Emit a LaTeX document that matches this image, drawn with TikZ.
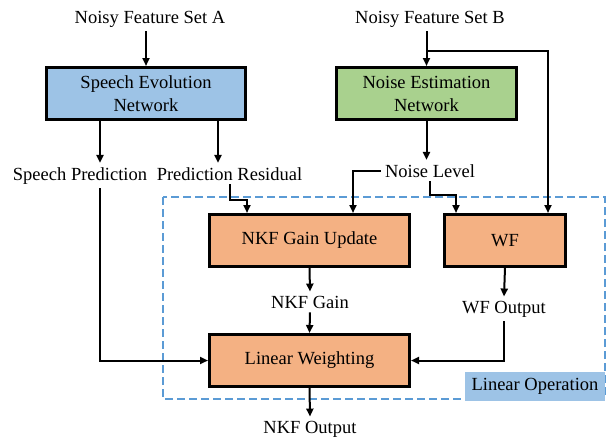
\documentclass[tikz,border=0pt]{standalone}
\usepackage{fontspec}
\setmainfont{Liberation Serif}
\usetikzlibrary{arrows.meta}
\definecolor{netblue}{HTML}{9DC3E6}
\definecolor{netgreen}{HTML}{A9D18E}
\definecolor{oporange}{HTML}{F4B183}
\definecolor{dashblue}{HTML}{5B9BD5}

\begin{document}
\begin{tikzpicture}[x=1pt, y=-1pt,
  every node/.style={font=\fontsize{18.5}{23}\selectfont},
  txt/.style={anchor=base, inner sep=4pt},
  netbox/.style={draw, line width=3pt, align=center, minimum height=52pt},
  opbox/.style={draw, line width=3pt, fill=oporange, minimum height=52pt},
  arr/.style={-{Triangle[length=8pt,width=7pt]}, line width=2pt}]

\useasboundingbox (0,0) rectangle (606,437);

% === LINEAR OPERATION REGION ===
\draw[dashblue, line width=1.5pt, dash pattern=on 8pt off 4pt] (163,197) rectangle (605,399);

% === INPUTS AND NETWORKS ===
\node[txt] (inA) at (150,23) {Noisy Feature Set A};
\node[txt] (inB) at (430,23) {Noisy Feature Set B};

\node[netbox, fill=netblue, minimum width=199pt] (sen) at (146,93.5) {Speech Evolution\\Network};
\node[netbox, fill=netgreen, minimum width=180pt] (nen) at (426.5,93.5) {Noise Estimation\\Network};

% intermediate outputs
\node[txt] (spred) at (80,180) {Speech Prediction};
\node[txt] (presid) at (229.5,180) {Prediction Residual};
\node[txt] (nlev) at (430,177) {Noise Level};

% === LINEAR OPERATION BLOCKS ===
\node[opbox, minimum width=200pt] (gain) at (309.5,240.5) {NKF Gain Update};
\node[opbox, minimum width=121pt] (wf) at (505,240.5) {WF};

\node[txt] (ngain) at (310,308) {NKF Gain};
\node[txt] (wfout) at (504,313) {WF Output};

\node[opbox, minimum width=200pt] (lw) at (309.5,360.5) {Linear Weighting};
\node[txt] (out) at (310,433) {NKF Output};

\node[fill=netblue, minimum width=140pt, minimum height=29pt, inner sep=0pt] (linop) at (535,386.5) {Linear Operation};

% === CONNECTORS ===
\coordinate (split) at (427,51);

\draw[arr] (inA.south -| sen.north) -- (sen.north);
\draw[arr] (inB.south -| nen.north) -- (nen.north);
\draw[arr] (split) -| ([xshift=43pt]wf.north);

\draw[arr] ([xshift=-46pt]sen.south) -- ([xshift=-46pt]sen.south |- spred.north);
\draw[arr] ([xshift=72pt]sen.south) -- ([xshift=72pt]sen.south |- presid.north);
\draw[arr] (nen.south) -- (nen.south |- nlev.north);

\draw[arr] (presid.south) -- ++(0,16) -| ([xshift=-62.5pt]gain.north);
\draw[arr] (nlev.west) -| ([xshift=43.5pt]gain.north);
\draw[arr] (nlev.south) -- ++(0,14) -| ([xshift=-49pt]wf.north);

\draw[arr] (gain.south) -- (ngain.north);
\draw[arr] (ngain.south) -- (lw.north);
\draw[arr] (wf.south) -- (wfout.north);
\draw[arr] (wfout.south) |- (lw.east);
\draw[arr] ([xshift=20pt]spred.south) |- (lw.west);
\draw[arr] (lw.south) -- (out.north);

\end{tikzpicture}
\end{document}
